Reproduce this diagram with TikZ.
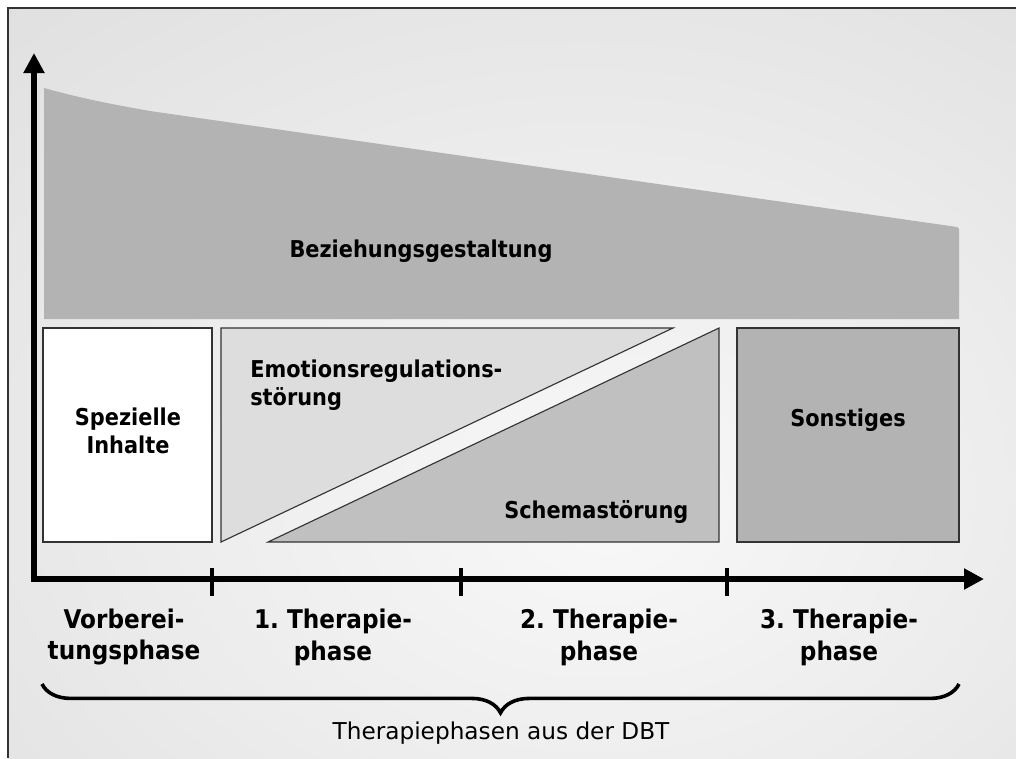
\documentclass[tikz,border=0pt]{standalone}
\usepackage{fontspec}
\setmainfont{DejaVu Sans}
\newfontfamily\labelfont[FakeStretch=0.9]{DejaVu Sans}
\usepackage{xcolor}
\usetikzlibrary{arrows.meta, decorations.pathreplacing}

\definecolor{bgin}{HTML}{F8F8F8}
\definecolor{bgmid}{HTML}{EDEDED}
\definecolor{bgout}{HTML}{DCDCDC}
\definecolor{bandgray}{HTML}{B3B3B3}
\definecolor{trilight}{HTML}{DDDDDD}
\definecolor{trimid}{HTML}{C0C0C0}
\definecolor{edgegray}{HTML}{333333}

\pgfdeclareradialshading{bgglow}{\pgfpoint{4.8bp}{-8.9bp}}{color(0bp)=(bgin); color(20bp)=(bgmid); color(48bp)=(bgout); color(100bp)=(bgout)}

\frenchspacing

\begin{document}
\begin{tikzpicture}[
        x=0.025cm, y=-0.025cm,
        % Styles
        frame/.style={draw=edgegray, line width=1pt},
        phasebox/.style={
            rectangle, draw=edgegray, line width=0.8pt,
            minimum width=#1, minimum height=5.35cm, inner sep=0pt
        },
        tri/.style={draw=edgegray, line width=0.8pt, line join=miter},
        boxlabel/.style={
            font=\labelfont\bfseries\fontsize{16.5}{19.5}\selectfont,
            inner sep=0pt, align=center
        },
        phaselabel/.style={
            font=\labelfont\bfseries\fontsize{18.3}{22.7}\selectfont,
            inner sep=0pt, align=center
        },
        caption/.style={font=\fontsize{16.5}{19}\selectfont, inner sep=0pt},
        axis/.style={
            <->, >={Triangle[length=0.5cm, width=0.5cm]},
            line width=0.13cm, line join=miter
        },
        tick/.style={line width=0.11cm},
        curly/.style={
            decorate, decoration={brace, mirror, amplitude=0.72cm},
            line width=0.09cm
        }
    ]

        \useasboundingbox (0,0) rectangle (1016,758);

        % Background and frame
        \path[shading=bgglow] (8,8) rectangle (1016,758);
        \draw[frame] (8,758) -- (8,8) -- (1016,8);

        % Relationship band
        \fill[bandgray] (44,88) .. controls (80,98) and (110,104) .. (150,111)
            -- (957,227) -- (959,229) -- (959,319) -- (44,319) -- cycle;
        \node[boxlabel, anchor=base] (bez) at (421,257) {Beziehungsgestaltung};

        % Boxes
        \node[phasebox=4.225cm, fill=white] (spez) at (127.5,435) {};
        \node[boxlabel] (speztext) at (128,431) {Spezielle\\Inhalte};
        \node[phasebox=5.55cm, fill=bandgray] (sonst) at (848,435) {};
        \node[boxlabel, anchor=base] (sonsttext) at (848,426) {Sonstiges};

        % Triangles
        \draw[tri, fill=trilight] (221,328) -- (673,328) -- (221,542) -- cycle;
        \draw[tri, fill=trimid] (268,542) -- (719,328) -- (719,542) -- cycle;
        \node[boxlabel, anchor=west, align=left] (emo) at (250,385) {Emotionsregulations-\\störung};
        \node[boxlabel, anchor=base west] (schema) at (504,518) {Schemastörung};

        % Axes
        \coordinate (origin) at (34,579);
        \coordinate (ytop) at (34,53);
        \coordinate (xend) at (984,579);
        \draw[axis] (ytop) -- (origin) -- (xend);
        \foreach \x in {212, 461, 727}
            \draw[tick] (\x,568) -- (\x,596);

        % Phase labels
        \node[phaselabel] (vor) at (124,637) {Vorberei-\\tungsphase};
        \node[phaselabel] (phone) at (333,637) {1. Therapie-\\phase};
        \node[phaselabel] (phtwo) at (599,637) {2. Therapie-\\phase};
        \node[phaselabel] (phthree) at (839,637) {3. Therapie-\\phase};

        % Brace
        \coordinate (bl) at (42,684);
        \coordinate (br) at (959,684);
        \draw[curly] (bl) -- (br);
        \node[caption, anchor=base] (dbt) at (501,739) {Therapiephasen aus der DBT};

    \end{tikzpicture}
\end{document}
